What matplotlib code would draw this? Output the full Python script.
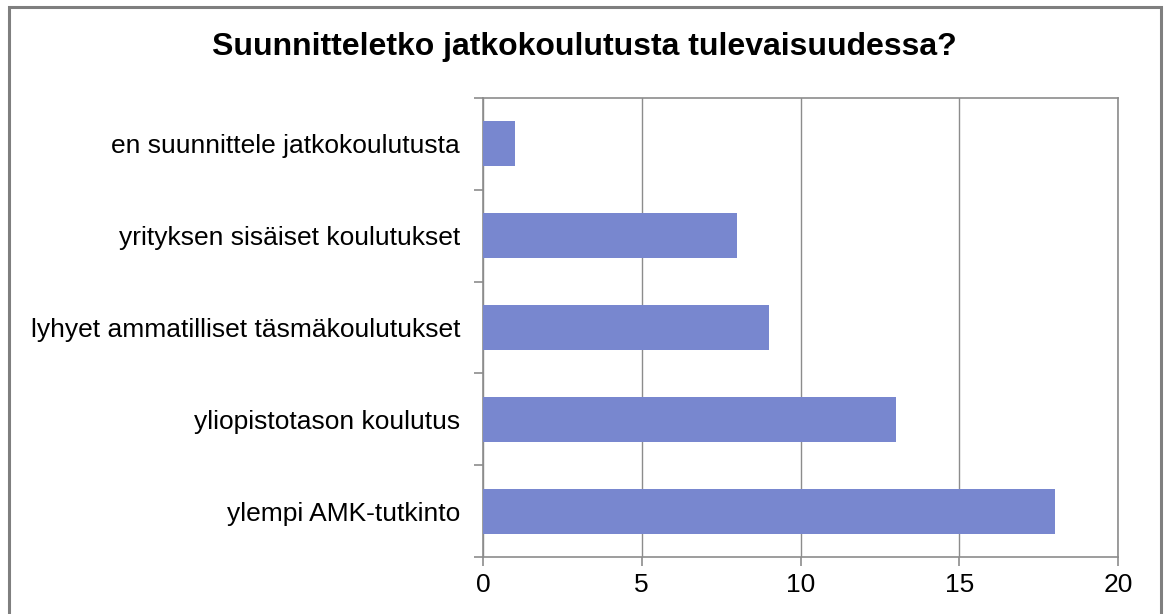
import matplotlib
matplotlib.use("Agg")
import matplotlib.pyplot as plt
from matplotlib.patches import Rectangle

# --------------------------------------------------------------------------
# Data (top-to-bottom order as shown)
# --------------------------------------------------------------------------
categories = [
    "en suunnittele jatkokoulutusta",
    "yrityksen sisäiset koulutukset",
    "lyhyet ammatilliset täsmäkoulutukset",
    "yliopistotason koulutus",
    "ylempi AMK-tutkinto",
]
counts = [1, 8, 9, 13, 18]
x_ticks = [0, 5, 10, 15, 20]

BAR = "#7887cf"
GRID = "#8c8c8c"
AXIS = "#8c8c8c"

plt.rcParams["font.family"] = ["Liberation Sans", "DejaVu Sans"]

fig = plt.figure(figsize=(11.65, 6.14), dpi=100)
fig.patch.set_facecolor("white")

# outer chart frame (bottom edge is cropped in the reference)
fig.patches.append(Rectangle((9 / 1165, -0.05), 1152 / 1165, 1.05 - 7 / 614,
                             transform=fig.transFigure, fill=False,
                             edgecolor="#7f7f7f", linewidth=2.2))

ax = fig.add_axes([483 / 1165, 1 - 557 / 614, (1118 - 483) / 1165, (557 - 98) / 614])

n = len(categories)
ypos = list(range(n))[::-1]
ax.barh(ypos, counts, height=0.49, color=BAR, edgecolor="none", zorder=3)

ax.set_xlim(0, 20)
ax.set_ylim(-0.5, n - 0.5)
ax.set_xticks(x_ticks)
ax.set_yticks(ypos)
ax.set_yticklabels(categories)
ax.set_yticks([i - 0.5 for i in range(n + 1)], minor=True)

ax.grid(axis="x", color=GRID, linewidth=1.0, zorder=0)
for side in ("top", "right", "left", "bottom"):
    ax.spines[side].set_color(AXIS)
    ax.spines[side].set_linewidth(1.2)

ax.tick_params(axis="y", which="major", length=0, pad=16.5, labelsize=19)
ax.tick_params(axis="y", which="minor", length=6.5, color=AXIS, width=1.2)
ax.tick_params(axis="x", which="major", length=6.5, color=AXIS, width=1.2,
               pad=5, labelsize=19)

fig.text(584 / 1165, 1 - 47 / 614, "Suunnitteletko jatkokoulutusta tulevaisuudessa?",
         ha="center", va="center", fontsize=23, fontweight="bold")

fig.savefig("out.png", dpi=100)
